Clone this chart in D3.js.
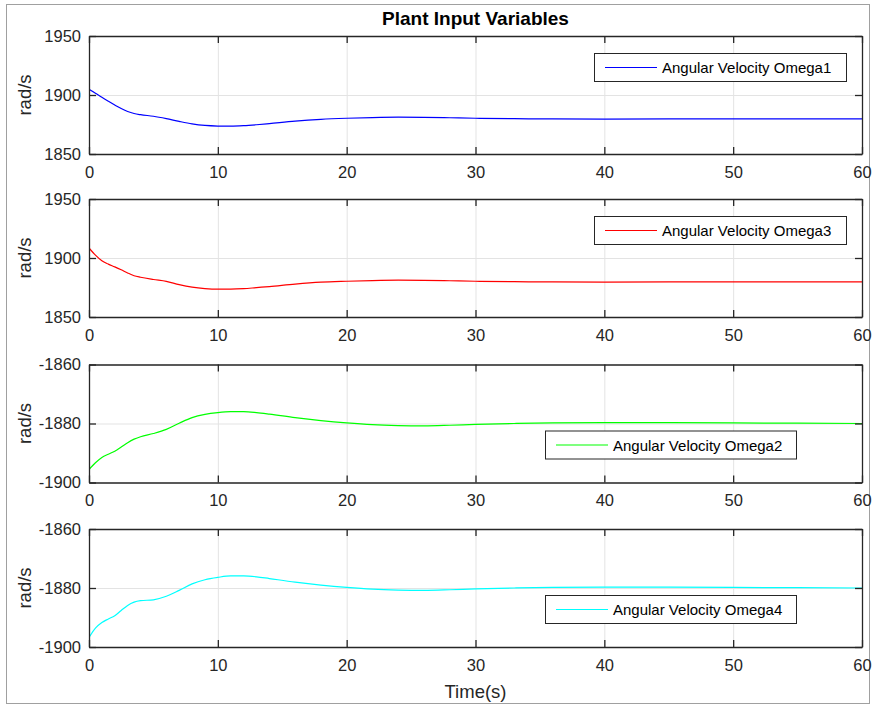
<!DOCTYPE html>
<html>
<head>
<meta charset="utf-8">
<script src="https://cdn.jsdelivr.net/npm/d3@7"></script>
<style>
  body { margin: 0; background: #fff; }
  svg { font-family: Arial, "Liberation Sans", sans-serif; }
</style>
</head>
<body>
<div id="chart"></div>
<script>
// time samples (s)
const time = [0, 0.5, 1, 1.5, 2, 2.5, 3, 3.5, 4, 5, 6, 7, 8, 9, 10, 11, 12, 13, 14, 16, 18, 20, 22, 24, 26, 28, 30, 33, 36, 40, 45, 50, 55, 60];

// angular velocities
const omega1 = [1904.8, 1901.5, 1898, 1894.7, 1891.5, 1888.5, 1886, 1884.3, 1883.3, 1882, 1880, 1877.6, 1875.5, 1874.2, 1873.7, 1873.6, 1874, 1874.8, 1875.8, 1877.9, 1879.4, 1880.3, 1880.9, 1881.2, 1881.1, 1880.7, 1880.3, 1879.9, 1879.7, 1879.6, 1879.7, 1879.8, 1879.8, 1879.8];
const omega3 = [1908.5, 1902.4, 1897.6, 1894.8, 1892.5, 1890, 1887.3, 1885, 1883.7, 1881.8, 1880.2, 1877.4, 1875.3, 1874.1, 1873.6, 1873.6, 1874, 1874.9, 1875.8, 1877.9, 1879.5, 1880.3, 1880.9, 1881.2, 1881.1, 1880.7, 1880.3, 1879.9, 1879.7, 1879.6, 1879.7, 1879.8, 1879.8, 1879.8];
const omega2 = [-1895.6, -1893.3, -1891.5, -1890.4, -1889.4, -1888, -1886.5, -1885.3, -1884.5, -1883.4, -1882, -1879.9, -1878, -1876.9, -1876.3, -1876, -1876, -1876.3, -1876.8, -1878, -1879, -1879.8, -1880.4, -1880.7, -1880.8, -1880.6, -1880.3, -1880, -1879.8, -1879.7, -1879.7, -1879.8, -1879.9, -1880];
const omega4 = [-1896.8, -1893.6, -1891.7, -1890.5, -1889.4, -1887.6, -1885.9, -1884.8, -1884.3, -1884, -1882.8, -1880.8, -1878.6, -1877.2, -1876.4, -1875.9, -1875.9, -1876.2, -1876.8, -1878, -1879, -1879.8, -1880.4, -1880.7, -1880.8, -1880.6, -1880.3, -1880, -1879.8, -1879.7, -1879.7, -1879.8, -1879.9, -1880];

const legendNames = ["Angular Velocity Omega1", "Angular Velocity Omega3", "Angular Velocity Omega2", "Angular Velocity Omega4"];
const lineColors = ["#0000ff", "#ff0000", "#00ff00", "#00ffff"];
const yDomains = [[1850, 1950], [1850, 1950], [-1900, -1860], [-1900, -1860]];
const yTicks = [[1850, 1900, 1950], [1850, 1900, 1950], [-1900, -1880, -1860], [-1900, -1880, -1860]];
const xTicks = [0, 10, 20, 30, 40, 50, 60];
const series = [omega1, omega3, omega2, omega4];

const W = 872, H = 706;
const left = 89, right = 862, panelH = 118;
const tops = [36, 199, 364.5, 529];
const legendPos = [{ x: 594, dy: 17, w: 252 }, { x: 594, dy: 17, w: 252 }, { x: 545, dy: 66, w: 251 }, { x: 545, dy: 66, w: 251 }];
const axisColor = "#262626";
const plain = d => String(d);

const svg = d3.select("#chart")
  .append("svg")
  .attr("width", W)
  .attr("height", H);

svg.append("rect")
  .attr("width", W).attr("height", H)
  .attr("fill", "#fff");

// outer figure frame
svg.append("rect")
  .attr("x", 6.5).attr("y", 4.5)
  .attr("width", 863).attr("height", 699)
  .attr("fill", "none")
  .attr("stroke", "#a0a0a0");

const x = d3.scaleLinear().domain([0, 60]).range([left, right]);

series.forEach(function(vals, i) {
  const top = tops[i];
  const y = d3.scaleLinear().domain(yDomains[i]).range([top + panelH, top]);
  const g = svg.append("g");

  // grid
  g.append("g")
    .attr("transform", "translate(0," + (top + panelH) + ")")
    .call(d3.axisBottom(x).tickValues(xTicks).tickSize(-panelH).tickFormat(""))
    .call(s => s.select(".domain").remove())
    .selectAll("line").attr("stroke", "#e3e3e3");
  g.append("g")
    .attr("transform", "translate(" + left + ",0)")
    .call(d3.axisLeft(y).tickValues(yTicks[i]).tickSize(-(right - left)).tickFormat(""))
    .call(s => s.select(".domain").remove())
    .selectAll("line").attr("stroke", "#e3e3e3");

  // clip and line
  const clipId = "clip" + i;
  svg.append("clipPath").attr("id", clipId)
    .append("rect")
    .attr("x", left).attr("y", top)
    .attr("width", right - left).attr("height", panelH);

  const line = d3.line()
    .x((d, j) => x(time[j]))
    .y(d => y(d))
    .curve(d3.curveMonotoneX);

  g.append("path")
    .datum(vals)
    .attr("clip-path", "url(#" + clipId + ")")
    .attr("fill", "none")
    .attr("stroke", lineColors[i])
    .attr("stroke-width", 1.2)
    .attr("d", line);

  // axes with inward ticks on all sides
  const bottom = g.append("g")
    .attr("transform", "translate(0," + (top + panelH) + ")")
    .call(d3.axisBottom(x).tickValues(xTicks).tickFormat(plain).tickSizeInner(-7).tickSizeOuter(0).tickPadding(12));
  const leftAx = g.append("g")
    .attr("transform", "translate(" + left + ",0)")
    .call(d3.axisLeft(y).tickValues(yTicks[i]).tickFormat(plain).tickSizeInner(-7).tickSizeOuter(0).tickPadding(8));
  const topAx = g.append("g")
    .attr("transform", "translate(0," + top + ")")
    .call(d3.axisTop(x).tickValues(xTicks).tickSizeInner(-7).tickSizeOuter(0).tickFormat(""));
  const rightAx = g.append("g")
    .attr("transform", "translate(" + right + ",0)")
    .call(d3.axisRight(y).tickValues(yTicks[i]).tickSizeInner(-7).tickSizeOuter(0).tickFormat(""));

  [bottom, leftAx, topAx, rightAx].forEach(function(a) {
    a.select(".domain").attr("stroke", axisColor).attr("stroke-width", 1.3);
    a.selectAll(".tick line").attr("stroke", axisColor).attr("stroke-width", 1.3);
    a.selectAll(".tick text")
      .attr("fill", axisColor)
      .style("font-size", "16.5px")
      .style("font-family", "Arial, 'Liberation Sans', sans-serif");
  });

  // y label
  g.append("text")
    .attr("transform", "translate(31," + (top + panelH / 2) + ") rotate(-90)")
    .attr("text-anchor", "middle")
    .attr("fill", axisColor)
    .style("font-size", "18.5px")
    .text("rad/s");

  // legend
  const lp = legendPos[i];
  const lg = g.append("g").attr("transform", "translate(" + lp.x + "," + (top + lp.dy) + ")");
  lg.append("rect")
    .attr("x", 0.5).attr("y", 0.5)
    .attr("width", lp.w).attr("height", 28)
    .attr("fill", "#fff")
    .attr("stroke", axisColor)
    .attr("stroke-width", 1);
  lg.append("line")
    .attr("x1", 11).attr("x2", 63)
    .attr("y1", 14.5).attr("y2", 14.5)
    .attr("stroke", lineColors[i])
    .attr("stroke-width", 1.2);
  lg.append("text")
    .attr("x", 68).attr("y", 20)
    .attr("fill", "#000")
    .style("font-size", "15px")
    .text(legendNames[i]);
});

// title and x label
svg.append("text")
  .attr("x", (left + right) / 2).attr("y", 25)
  .attr("text-anchor", "middle")
  .style("font-size", "19px")
  .style("font-weight", "bold")
  .text("Plant Input Variables");

svg.append("text")
  .attr("x", (left + right) / 2).attr("y", 698)
  .attr("text-anchor", "middle")
  .attr("fill", axisColor)
  .style("font-size", "18.5px")
  .text("Time(s)");
</script>
</body>
</html>
